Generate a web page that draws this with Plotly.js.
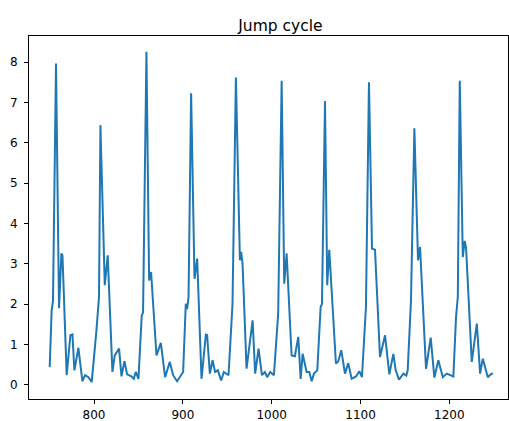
<!DOCTYPE html>
<html>
<head>
<meta charset="utf-8">
<script src="https://cdn.plot.ly/plotly-3.0.1.min.js"></script>
<style>html,body{margin:0;padding:0;background:#fff;}#chart{width:509px;height:421px;}</style>
</head>
<body>
<div id="chart"></div>
<script>
// Frame index (x) and value (y)
var frameIndex = [
  750.1, 752.3, 753.8, 757.2, 760.6, 763.3, 764.5, 769.2, 773.4, 775.7, 777.9, 782.4, 786.9, 789.9, 793.7, 797.4,
  802.7, 805.6, 807.2, 812.1, 815.4, 820.7, 823.3, 828.2, 830.9, 834.3, 837.2, 842.1, 844.7, 847.0, 850.0,
  853.7, 855.2, 859.0, 862.0, 864.2, 870.3, 875.2, 880.0, 885.3, 889.0, 893.5, 900.3,
  903.3, 904.8, 906.4, 909.3, 913.1, 916.1, 921.0, 925.9, 927.3, 930.4, 933.4, 936.3, 939.4, 943.1, 946.1, 951.4,
  955.9, 959.7, 964.2, 965.6, 967.2, 971.7, 974.0, 978.5, 981.4, 985.2, 989.0, 992.3, 994.9, 998.3, 1002.5,
  1007.3, 1011.2, 1014.1, 1016.8, 1022.4, 1026.1, 1029.9, 1032.6, 1034.8, 1039.3, 1042.3, 1045.0, 1047.6, 1051.3,
  1055.1, 1056.6, 1060.0, 1062.5, 1064.8, 1072.3, 1074.9, 1078.3, 1082.5, 1086.2, 1090.0, 1094.9, 1098.6, 1101.6,
  1106.1, 1109.5, 1112.9, 1116.3, 1121.9, 1127.6, 1132.4, 1136.9, 1139.6, 1143.3, 1148.2, 1151.5, 1153.1,
  1156.8, 1160.6, 1164.7, 1167.0, 1173.7, 1179.0, 1183.1, 1187.6, 1192.6, 1197.1, 1204.5,
  1207.5, 1209.5, 1211.7, 1215.1, 1217.3, 1218.8, 1225.2, 1230.9, 1234.6, 1237.6, 1243.3, 1245.9, 1248.9
];
var jumpValue = [
  0.44, 1.85, 2.08, 7.97, 1.90, 3.26, 3.20, 0.24, 1.23, 1.25, 0.36, 0.92, 0.09, 0.24, 0.19, 0.07,
  1.35, 2.18, 6.44, 2.47, 3.21, 0.32, 0.73, 0.90, 0.21, 0.59, 0.26, 0.21, 0.15, 0.32, 0.15,
  1.72, 1.80, 8.26, 2.59, 2.80, 0.73, 1.04, 0.19, 0.57, 0.24, 0.09, 0.32,
  2.01, 1.88, 2.18, 7.23, 2.63, 3.13, 0.15, 1.25, 1.24, 0.28, 0.61, 0.32, 0.36, 0.11, 0.32, 0.24,
  2.01, 7.62, 3.09, 3.30, 3.00, 0.40, 0.81, 1.60, 0.28, 0.90, 0.24, 0.32, 0.19, 0.32, 0.24,
  1.77, 7.54, 2.51, 3.26, 0.73, 0.71, 1.19, 0.15, 0.77, 0.32, 0.32, 0.09, 0.28, 0.36,
  1.93, 2.01, 7.04, 2.47, 3.35, 0.53, 0.58, 0.86, 0.28, 0.54, 0.15, 0.21, 0.34, 0.19,
  1.93, 7.50, 3.38, 3.35, 0.69, 1.23, 0.26, 0.77, 0.36, 0.13, 0.28, 0.23, 0.36,
  2.10, 6.36, 3.09, 3.42, 0.40, 1.17, 0.18, 0.61, 0.19, 0.28, 0.21,
  1.68, 2.18, 7.54, 3.17, 3.57, 3.40, 0.57, 1.52, 0.28, 0.65, 0.19, 0.25, 0.29
];
var xTicks = [800, 900, 1000, 1100, 1200];
var yTicks = [0, 1, 2, 3, 4, 5, 6, 7, 8];

var trace = {
  x: frameIndex,
  y: jumpValue,
  type: 'scatter',
  mode: 'lines',
  line: {color: '#1f77b4', width: 2},
  hoverinfo: 'skip'
};

var axisCommon = {
  showgrid: false,
  zeroline: false,
  showline: true,
  mirror: true,
  linecolor: '#000',
  linewidth: 1,
  ticks: 'outside',
  ticklen: 4,
  tickwidth: 1,
  tickcolor: '#000',
  tickfont: {family: 'DejaVu Sans', size: 12, color: '#000'}
};

var layout = {
  width: 509,
  height: 421,
  margin: {l: 29, r: 1, t: 36, b: 22, pad: 0},
  paper_bgcolor: '#fff',
  plot_bgcolor: '#fff',
  showlegend: false,
  title: {
    text: 'Jump cycle',
    font: {family: 'DejaVu Sans', size: 15.5, color: '#000'},
    x: 0.525, xref: 'paper', xanchor: 'center',
    y: 1, yref: 'paper', yanchor: 'bottom',
    pad: {b: 5}
  },
  xaxis: Object.assign({}, axisCommon, {
    range: [726.8, 1266],
    tickvals: xTicks,
    ticktext: xTicks.map(String),
    ticklabelstandoff: 1
  }),
  yaxis: Object.assign({}, axisCommon, {
    range: [-0.35, 8.65],
    tickvals: yTicks,
    ticktext: yTicks.map(String),
    ticklabelstandoff: 4
  })
};

Plotly.newPlot('chart', [trace], layout, {displayModeBar: false, staticPlot: true});
</script>
</body>
</html>
